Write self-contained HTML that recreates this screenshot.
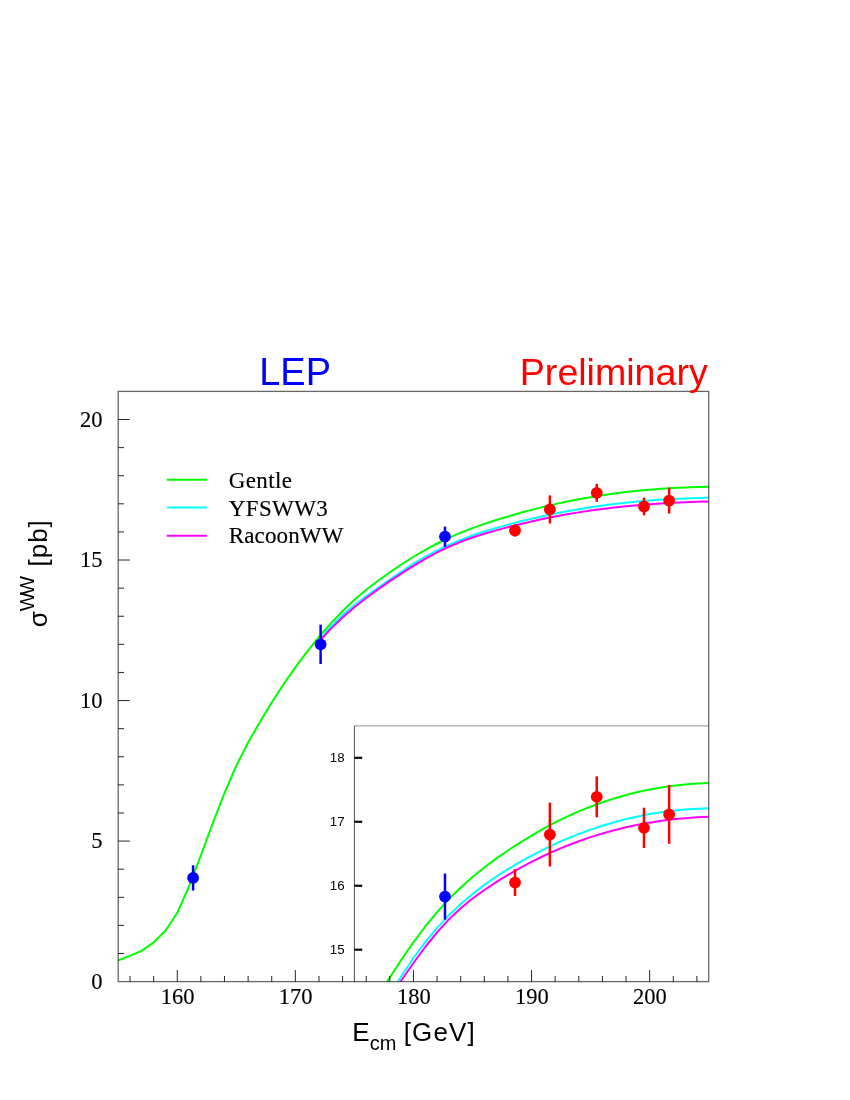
<!DOCTYPE html>
<html><head><meta charset="utf-8"><title>LEP WW cross section</title>
<style>
html,body{margin:0;padding:0;background:#fff;}
body{width:850px;height:1100px;position:relative;overflow:hidden;font-family:"Liberation Sans",sans-serif;}
</style></head><body>
<svg width="850" height="1100" viewBox="0 0 850 1100" style="position:absolute;left:0;top:0;will-change:transform">
<defs><clipPath id="cm"><rect x="118.20" y="391.40" width="590.50" height="590.20"/></clipPath>
<clipPath id="ci"><rect x="354.40" y="725.80" width="354.30" height="255.90"/></clipPath></defs>
<path d="M118.20,960.20 L130.01,955.93 L141.82,950.59 L153.63,942.33 L165.44,930.79 L177.25,912.82 L189.06,886.24 L200.87,855.39 L212.68,823.45 L224.49,792.99 L236.30,765.73 L248.11,742.53 L259.92,721.96 L271.73,702.48 L283.54,684.29 L295.35,667.38 L307.16,651.60 L318.97,636.92 L330.78,623.38 L342.59,611.01 L354.40,599.82 L366.21,589.79 L378.02,580.69 L389.83,572.24 L401.64,564.25 L413.45,556.76 L425.26,549.83 L437.07,543.50 L448.88,537.81 L460.69,532.69 L472.50,528.08 L484.31,523.88 L496.12,520.03 L507.93,516.45 L519.74,513.06 L531.55,509.87 L543.36,506.88 L555.17,504.11 L566.98,501.57 L578.79,499.25 L590.60,497.15 L602.41,495.25 L614.22,493.56 L626.03,492.07 L637.84,490.78 L649.65,489.67 L661.46,488.75 L673.27,488.01 L685.08,487.43 L696.89,487.03 L708.70,486.78" fill="none" stroke="#00ff00" stroke-width="2" clip-path="url(#cm)" stroke-linejoin="round"/>
<path d="M318.97,640.69 L330.78,626.82 L342.59,615.12 L354.40,605.06 L366.21,596.11 L378.02,587.75 L389.83,579.61 L401.64,571.47 L413.45,563.68 L425.26,556.66 L437.07,550.41 L448.88,544.86 L460.69,539.92 L472.50,535.51 L484.31,531.55 L496.12,527.96 L507.93,524.66 L519.74,521.58 L531.55,518.70 L543.36,516.02 L555.17,513.54 L566.98,511.26 L578.79,509.17 L590.60,507.26 L602.41,505.54 L614.22,504.01 L626.03,502.65 L637.84,501.46 L649.65,500.45 L661.46,499.61 L673.27,498.93 L685.08,498.42 L696.89,498.07 L708.70,497.87" fill="none" stroke="#00ffff" stroke-width="2" clip-path="url(#cm)" stroke-linejoin="round"/>
<path d="M318.97,641.52 L330.78,628.90 L342.59,617.57 L354.40,607.33 L366.21,597.99 L378.02,589.34 L389.83,581.18 L401.64,573.35 L413.45,565.88 L425.26,558.84 L437.07,552.41 L448.88,546.74 L460.69,541.81 L472.50,537.55 L484.31,533.79 L496.12,530.34 L507.93,527.15 L519.74,524.17 L531.55,521.41 L543.36,518.85 L555.17,516.50 L566.98,514.34 L578.79,512.37 L590.60,510.58 L602.41,508.97 L614.22,507.53 L626.03,506.26 L637.84,505.16 L649.65,504.21 L661.46,503.41 L673.27,502.75 L685.08,502.24 L696.89,501.86 L708.70,501.61" fill="none" stroke="#ff00ff" stroke-width="2" clip-path="url(#cm)" stroke-linejoin="round"/>
<line x1="193.08" x2="193.08" y1="865.25" y2="890.54" stroke="#0000ff" stroke-width="2.5"/>
<circle cx="193.08" cy="877.89" r="5.9" fill="#0000ff"/>
<line x1="320.62" x2="320.62" y1="624.67" y2="664.02" stroke="#0000ff" stroke-width="2.5"/>
<circle cx="320.62" cy="644.34" r="5.9" fill="#0000ff"/>
<line x1="444.98" x2="444.98" y1="526.58" y2="546.82" stroke="#0000ff" stroke-width="2.5"/>
<circle cx="444.98" cy="536.70" r="5.9" fill="#0000ff"/>
<line x1="515.02" x2="515.02" y1="524.62" y2="536.42" stroke="#ff0000" stroke-width="2.5"/>
<circle cx="515.02" cy="530.52" r="5.9" fill="#ff0000"/>
<line x1="549.86" x2="549.86" y1="495.39" y2="523.49" stroke="#ff0000" stroke-width="2.5"/>
<circle cx="549.86" cy="509.44" r="5.9" fill="#ff0000"/>
<line x1="596.74" x2="596.74" y1="483.86" y2="501.85" stroke="#ff0000" stroke-width="2.5"/>
<circle cx="596.74" cy="492.86" r="5.9" fill="#ff0000"/>
<line x1="643.98" x2="643.98" y1="497.64" y2="515.34" stroke="#ff0000" stroke-width="2.5"/>
<circle cx="643.98" cy="506.49" r="5.9" fill="#ff0000"/>
<line x1="669.14" x2="669.14" y1="487.66" y2="513.52" stroke="#ff0000" stroke-width="2.5"/>
<circle cx="669.14" cy="500.59" r="5.9" fill="#ff0000"/>
<rect x="354.40" y="725.80" width="354.30" height="255.90" fill="#fff"/>
<path d="M118.20,1860.63 L130.01,1850.91 L141.82,1838.74 L153.63,1819.95 L165.44,1793.69 L177.25,1752.78 L189.06,1692.26 L200.87,1622.04 L212.68,1549.33 L224.49,1480.01 L236.30,1417.96 L248.11,1365.14 L259.92,1318.31 L271.73,1273.98 L283.54,1232.58 L295.35,1194.09 L307.16,1158.15 L318.97,1124.75 L330.78,1093.93 L342.59,1065.76 L354.40,1040.29 L366.21,1017.47 L378.02,996.75 L389.83,977.50 L401.64,959.32 L413.45,942.28 L425.26,926.49 L437.07,912.09 L448.88,899.13 L460.69,887.48 L472.50,876.98 L484.31,867.44 L496.12,858.67 L507.93,850.51 L519.74,842.80 L531.55,835.53 L543.36,828.74 L555.17,822.44 L566.98,816.65 L578.79,811.36 L590.60,806.57 L602.41,802.26 L614.22,798.42 L626.03,795.03 L637.84,792.08 L649.65,789.56 L661.46,787.46 L673.27,785.77 L685.08,784.46 L696.89,783.54 L708.70,782.98" fill="none" stroke="#00ff00" stroke-width="2.0" clip-path="url(#ci)" stroke-linejoin="round"/>
<path d="M318.97,1133.32 L330.78,1101.74 L342.59,1075.12 L354.40,1052.23 L366.21,1031.85 L378.02,1012.82 L389.83,994.28 L401.64,975.75 L413.45,958.03 L425.26,942.05 L437.07,927.83 L448.88,915.18 L460.69,903.94 L472.50,893.90 L484.31,884.89 L496.12,876.71 L507.93,869.20 L519.74,862.18 L531.55,855.63 L543.36,849.54 L555.17,843.90 L566.98,838.70 L578.79,833.94 L590.60,829.60 L602.41,825.69 L614.22,822.19 L626.03,819.09 L637.84,816.40 L649.65,814.10 L661.46,812.18 L673.27,810.64 L685.08,809.47 L696.89,808.67 L708.70,808.22" fill="none" stroke="#00ffff" stroke-width="2.0" clip-path="url(#ci)" stroke-linejoin="round"/>
<path d="M318.97,1135.21 L330.78,1106.48 L342.59,1080.69 L354.40,1057.39 L366.21,1036.13 L378.02,1016.43 L389.83,997.86 L401.64,980.04 L413.45,963.02 L425.26,947.00 L437.07,932.37 L448.88,919.45 L460.69,908.24 L472.50,898.55 L484.31,889.98 L496.12,882.14 L507.93,874.86 L519.74,868.09 L531.55,861.81 L543.36,855.99 L555.17,850.62 L566.98,845.70 L578.79,841.22 L590.60,837.15 L602.41,833.48 L614.22,830.21 L626.03,827.33 L637.84,824.81 L649.65,822.64 L661.46,820.82 L673.27,819.34 L685.08,818.17 L696.89,817.30 L708.70,816.73" fill="none" stroke="#ff00ff" stroke-width="2.0" clip-path="url(#ci)" stroke-linejoin="round"/>
<line x1="444.98" x2="444.98" y1="873.58" y2="919.64" stroke="#0000ff" stroke-width="2.5"/>
<circle cx="444.98" cy="896.61" r="5.9" fill="#0000ff"/>
<line x1="515.02" x2="515.02" y1="869.10" y2="895.97" stroke="#ff0000" stroke-width="2.5"/>
<circle cx="515.02" cy="882.54" r="5.9" fill="#ff0000"/>
<line x1="549.86" x2="549.86" y1="802.57" y2="866.54" stroke="#ff0000" stroke-width="2.5"/>
<circle cx="549.86" cy="834.56" r="5.9" fill="#ff0000"/>
<line x1="596.74" x2="596.74" y1="776.34" y2="817.28" stroke="#ff0000" stroke-width="2.5"/>
<circle cx="596.74" cy="796.81" r="5.9" fill="#ff0000"/>
<line x1="643.98" x2="643.98" y1="807.69" y2="847.99" stroke="#ff0000" stroke-width="2.5"/>
<circle cx="643.98" cy="827.84" r="5.9" fill="#ff0000"/>
<line x1="669.14" x2="669.14" y1="784.98" y2="843.83" stroke="#ff0000" stroke-width="2.5"/>
<circle cx="669.14" cy="814.41" r="5.9" fill="#ff0000"/>
<line x1="354.40" x2="708.70" y1="725.80" y2="725.80" stroke="#000" stroke-opacity="0.35" stroke-width="1.3"/>
<line x1="354.40" x2="354.40" y1="725.80" y2="981.70" stroke="#000" stroke-opacity="0.7" stroke-width="1"/>
<line x1="354.40" x2="362.20" y1="949.71" y2="949.71" stroke="#000" stroke-width="2.1"/>
<line x1="354.40" x2="362.20" y1="885.74" y2="885.74" stroke="#000" stroke-width="2.1"/>
<line x1="354.40" x2="362.20" y1="821.76" y2="821.76" stroke="#000" stroke-width="2.1"/>
<line x1="354.40" x2="362.20" y1="757.79" y2="757.79" stroke="#000" stroke-width="2.1"/>
<rect x="118.20" y="391.40" width="590.50" height="590.20" fill="none" stroke="#000" stroke-opacity="0.6" stroke-width="1.3"/>
<line x1="118.20" x2="124.00" y1="953.50" y2="953.50" stroke="#000" stroke-opacity="0.85" stroke-width="1"/>
<line x1="118.20" x2="124.00" y1="925.39" y2="925.39" stroke="#000" stroke-opacity="0.85" stroke-width="1"/>
<line x1="118.20" x2="124.00" y1="897.29" y2="897.29" stroke="#000" stroke-opacity="0.85" stroke-width="1"/>
<line x1="118.20" x2="124.00" y1="869.18" y2="869.18" stroke="#000" stroke-opacity="0.85" stroke-width="1"/>
<line x1="118.20" x2="129.80" y1="841.08" y2="841.08" stroke="#000" stroke-opacity="0.85" stroke-width="1"/>
<line x1="118.20" x2="124.00" y1="812.97" y2="812.97" stroke="#000" stroke-opacity="0.85" stroke-width="1"/>
<line x1="118.20" x2="124.00" y1="784.87" y2="784.87" stroke="#000" stroke-opacity="0.85" stroke-width="1"/>
<line x1="118.20" x2="124.00" y1="756.76" y2="756.76" stroke="#000" stroke-opacity="0.85" stroke-width="1"/>
<line x1="118.20" x2="124.00" y1="728.66" y2="728.66" stroke="#000" stroke-opacity="0.85" stroke-width="1"/>
<line x1="118.20" x2="129.80" y1="700.55" y2="700.55" stroke="#000" stroke-opacity="0.85" stroke-width="1"/>
<line x1="118.20" x2="124.00" y1="672.45" y2="672.45" stroke="#000" stroke-opacity="0.85" stroke-width="1"/>
<line x1="118.20" x2="124.00" y1="644.34" y2="644.34" stroke="#000" stroke-opacity="0.85" stroke-width="1"/>
<line x1="118.20" x2="124.00" y1="616.24" y2="616.24" stroke="#000" stroke-opacity="0.85" stroke-width="1"/>
<line x1="118.20" x2="124.00" y1="588.13" y2="588.13" stroke="#000" stroke-opacity="0.85" stroke-width="1"/>
<line x1="118.20" x2="129.80" y1="560.03" y2="560.03" stroke="#000" stroke-opacity="0.85" stroke-width="1"/>
<line x1="118.20" x2="124.00" y1="531.92" y2="531.92" stroke="#000" stroke-opacity="0.85" stroke-width="1"/>
<line x1="118.20" x2="124.00" y1="503.82" y2="503.82" stroke="#000" stroke-opacity="0.85" stroke-width="1"/>
<line x1="118.20" x2="124.00" y1="475.71" y2="475.71" stroke="#000" stroke-opacity="0.85" stroke-width="1"/>
<line x1="118.20" x2="124.00" y1="447.61" y2="447.61" stroke="#000" stroke-opacity="0.85" stroke-width="1"/>
<line x1="118.20" x2="129.80" y1="419.50" y2="419.50" stroke="#000" stroke-opacity="0.85" stroke-width="1"/>
<line x1="130.01" x2="130.01" y1="981.60" y2="976.00" stroke="#000" stroke-opacity="0.85" stroke-width="1"/>
<line x1="153.63" x2="153.63" y1="981.60" y2="976.00" stroke="#000" stroke-opacity="0.85" stroke-width="1"/>
<line x1="177.25" x2="177.25" y1="981.60" y2="970.00" stroke="#000" stroke-opacity="0.85" stroke-width="1"/>
<line x1="200.87" x2="200.87" y1="981.60" y2="976.00" stroke="#000" stroke-opacity="0.85" stroke-width="1"/>
<line x1="224.49" x2="224.49" y1="981.60" y2="976.00" stroke="#000" stroke-opacity="0.85" stroke-width="1"/>
<line x1="248.11" x2="248.11" y1="981.60" y2="976.00" stroke="#000" stroke-opacity="0.85" stroke-width="1"/>
<line x1="271.73" x2="271.73" y1="981.60" y2="976.00" stroke="#000" stroke-opacity="0.85" stroke-width="1"/>
<line x1="295.35" x2="295.35" y1="981.60" y2="970.00" stroke="#000" stroke-opacity="0.85" stroke-width="1"/>
<line x1="318.97" x2="318.97" y1="981.60" y2="976.00" stroke="#000" stroke-opacity="0.85" stroke-width="1"/>
<line x1="342.59" x2="342.59" y1="981.60" y2="976.00" stroke="#000" stroke-opacity="0.85" stroke-width="1"/>
<line x1="366.21" x2="366.21" y1="981.60" y2="976.00" stroke="#000" stroke-opacity="0.85" stroke-width="1"/>
<line x1="389.83" x2="389.83" y1="981.60" y2="976.00" stroke="#000" stroke-opacity="0.85" stroke-width="1"/>
<line x1="413.45" x2="413.45" y1="981.60" y2="970.00" stroke="#000" stroke-opacity="0.85" stroke-width="1"/>
<line x1="437.07" x2="437.07" y1="981.60" y2="976.00" stroke="#000" stroke-opacity="0.85" stroke-width="1"/>
<line x1="460.69" x2="460.69" y1="981.60" y2="976.00" stroke="#000" stroke-opacity="0.85" stroke-width="1"/>
<line x1="484.31" x2="484.31" y1="981.60" y2="976.00" stroke="#000" stroke-opacity="0.85" stroke-width="1"/>
<line x1="507.93" x2="507.93" y1="981.60" y2="976.00" stroke="#000" stroke-opacity="0.85" stroke-width="1"/>
<line x1="531.55" x2="531.55" y1="981.60" y2="970.00" stroke="#000" stroke-opacity="0.85" stroke-width="1"/>
<line x1="555.17" x2="555.17" y1="981.60" y2="976.00" stroke="#000" stroke-opacity="0.85" stroke-width="1"/>
<line x1="578.79" x2="578.79" y1="981.60" y2="976.00" stroke="#000" stroke-opacity="0.85" stroke-width="1"/>
<line x1="602.41" x2="602.41" y1="981.60" y2="976.00" stroke="#000" stroke-opacity="0.85" stroke-width="1"/>
<line x1="626.03" x2="626.03" y1="981.60" y2="976.00" stroke="#000" stroke-opacity="0.85" stroke-width="1"/>
<line x1="649.65" x2="649.65" y1="981.60" y2="970.00" stroke="#000" stroke-opacity="0.85" stroke-width="1"/>
<line x1="673.27" x2="673.27" y1="981.60" y2="976.00" stroke="#000" stroke-opacity="0.85" stroke-width="1"/>
<line x1="696.89" x2="696.89" y1="981.60" y2="976.00" stroke="#000" stroke-opacity="0.85" stroke-width="1"/>
<line x1="166.8" x2="206.8" y1="479.7" y2="479.7" stroke="#00ff00" stroke-width="2"/>
<line x1="166.8" x2="206.8" y1="507.6" y2="507.6" stroke="#00ffff" stroke-width="2"/>
<line x1="166.8" x2="206.8" y1="535.8" y2="535.8" stroke="#ff00ff" stroke-width="2"/>
<text x="102.6" y="988.90" font-family="Liberation Serif, serif" stroke="#000" stroke-width="0.15" font-size="22.5" text-anchor="end">0</text>
<text x="102.6" y="848.38" font-family="Liberation Serif, serif" stroke="#000" stroke-width="0.15" font-size="22.5" text-anchor="end">5</text>
<text x="102.6" y="707.85" font-family="Liberation Serif, serif" stroke="#000" stroke-width="0.15" font-size="22.5" text-anchor="end">10</text>
<text x="102.6" y="567.33" font-family="Liberation Serif, serif" stroke="#000" stroke-width="0.15" font-size="22.5" text-anchor="end">15</text>
<text x="102.6" y="426.80" font-family="Liberation Serif, serif" stroke="#000" stroke-width="0.15" font-size="22.5" text-anchor="end">20</text>
<text x="177.55" y="1004.2" font-family="Liberation Serif, serif" stroke="#000" stroke-width="0.15" font-size="22.5" text-anchor="middle">160</text>
<text x="295.65" y="1004.2" font-family="Liberation Serif, serif" stroke="#000" stroke-width="0.15" font-size="22.5" text-anchor="middle">170</text>
<text x="413.75" y="1004.2" font-family="Liberation Serif, serif" stroke="#000" stroke-width="0.15" font-size="22.5" text-anchor="middle">180</text>
<text x="531.85" y="1004.2" font-family="Liberation Serif, serif" stroke="#000" stroke-width="0.15" font-size="22.5" text-anchor="middle">190</text>
<text x="649.95" y="1004.2" font-family="Liberation Serif, serif" stroke="#000" stroke-width="0.15" font-size="22.5" text-anchor="middle">200</text>
<text x="344.6" y="954.31" font-family="Liberation Sans, sans-serif" font-size="13.3" text-anchor="end">15</text>
<text x="344.6" y="890.34" font-family="Liberation Sans, sans-serif" font-size="13.3" text-anchor="end">16</text>
<text x="344.6" y="826.36" font-family="Liberation Sans, sans-serif" font-size="13.3" text-anchor="end">17</text>
<text x="344.6" y="762.39" font-family="Liberation Sans, sans-serif" font-size="13.3" text-anchor="end">18</text>
<text x="228.7" y="487.9" font-family="Liberation Serif, serif" stroke="#000" stroke-width="0.15" font-size="23" letter-spacing="0.4">Gentle</text>
<text x="228.7" y="515.5" font-family="Liberation Serif, serif" stroke="#000" stroke-width="0.15" font-size="23" letter-spacing="0.4">YFSWW3</text>
<text x="228.7" y="543.4" font-family="Liberation Serif, serif" stroke="#000" stroke-width="0.15" font-size="23" letter-spacing="0.15">RacoonWW</text>
<text x="259.3" y="385.2" font-family="Liberation Sans, sans-serif" font-size="37.9" fill="#0000ff">LEP</text>
<text x="519.8" y="385.3" font-family="Liberation Sans, sans-serif" font-size="37.6" fill="#ff0000">Preliminary</text>
<text x="352.3" y="1041" font-family="Liberation Sans, sans-serif" font-size="26">E<tspan font-size="20" dy="8.6">cm</tspan><tspan dy="-8.6" dx="-1.0" letter-spacing="1.15"> [GeV]</tspan></text>
<text transform="translate(46.8,627.3) rotate(-90)" font-family="Liberation Sans, sans-serif" font-size="26">σ<tspan font-size="20.2" dy="-12.5" letter-spacing="-2.9">WW</tspan><tspan dy="12.5" dx="4.2" letter-spacing="1.0"> [pb]</tspan></text>
</svg>
</body></html>
